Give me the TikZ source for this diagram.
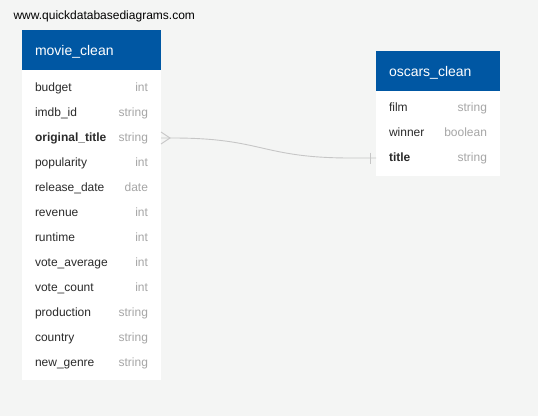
\documentclass[tikz,border=0pt]{standalone}
\usepackage{fontspec}
\setmainfont{Liberation Sans}
\usetikzlibrary{positioning}

\definecolor{qdbblue}{HTML}{0057A3}
\definecolor{qdbback}{HTML}{F4F5F4}
\definecolor{qdbtext}{HTML}{2B2B2B}
\definecolor{qdbtype}{HTML}{A6A6A6}
\definecolor{qdblink}{HTML}{C6C6C6}

\tikzset{
    tablehead/.style={anchor=north west, fill=qdbblue, text=white,
        font=\fontsize{14}{16}\selectfont, inner xsep=13pt, inner ysep=0pt,
        outer sep=0pt, text height=11pt, text depth=1pt,
        minimum height=40pt, text width=#1},
    tablerow/.style={anchor=north west, text=qdbtext,
        font=\fontsize{12}{14}\selectfont, inner xsep=13pt, inner ysep=0pt,
        outer sep=0pt, text height=9pt, text depth=3pt,
        minimum height=25pt, text width=#1},
    link/.style={draw=qdblink, line width=0.9pt}
}
\newcommand{\coltype}[1]{\hfill{\color{qdbtype}#1}}

\begin{document}
\begin{tikzpicture}[x=1pt, y=-1pt]
        \fill[qdbback] (0,0) rectangle (538,416);
        \useasboundingbox (0,0) rectangle (538,416);

        \node[anchor=west, font=\fontsize{12}{14}\selectfont] (site) at (10,16) {www.quickdatabasediagrams.com};

        % movie_clean
        \fill[white] (22,70) rectangle (161,380);
        \node[tablehead=113pt] (movieclean) at (22,30) {movie\_clean};
        \node[tablerow=113pt] (mcbudget) at (22,75.5) {budget\coltype{int}};
        \node[tablerow=113pt, below=0pt of mcbudget] (mcimdb) {imdb\_id\coltype{string}};
        \node[tablerow=113pt, below=0pt of mcimdb] (mcorig) {\textbf{original\_title}\coltype{string}};
        \node[tablerow=113pt, below=0pt of mcorig] (mcpop) {popularity\coltype{int}};
        \node[tablerow=113pt, below=0pt of mcpop] (mcrelease) {release\_date\coltype{date}};
        \node[tablerow=113pt, below=0pt of mcrelease] (mcrevenue) {revenue\coltype{int}};
        \node[tablerow=113pt, below=0pt of mcrevenue] (mcruntime) {runtime\coltype{int}};
        \node[tablerow=113pt, below=0pt of mcruntime] (mcvoteavg) {vote\_average\coltype{int}};
        \node[tablerow=113pt, below=0pt of mcvoteavg] (mcvotecnt) {vote\_count\coltype{int}};
        \node[tablerow=113pt, below=0pt of mcvotecnt] (mcprod) {production\coltype{string}};
        \node[tablerow=113pt, below=0pt of mcprod] (mccountry) {country\coltype{string}};
        \node[tablerow=113pt, below=0pt of mccountry] (mcgenre) {new\_genre\coltype{string}};

        % oscars_clean
        \fill[white] (376,91) rectangle (500,176);
        \node[tablehead=98pt] (oscarsclean) at (376,51) {oscars\_clean};
        \node[tablerow=98pt] (ocfilm) at (376,95.5) {film\coltype{string}};
        \node[tablerow=98pt, below=0pt of ocfilm] (ocwinner) {winner\coltype{boolean}};
        \node[tablerow=98pt, below=0pt of ocwinner] (octitle) {\textbf{title}\coltype{string}};

        % many-to-one link
        \coordinate (crow) at ([xshift=9pt]mcorig.east);
        \draw[link] (mcorig.east) -- ++(12pt,0)
            .. controls +(90pt,0) and +(-90pt,0) .. ([xshift=-25pt]octitle.west) -- (octitle.west);
        \draw[link] ([yshift=6pt]mcorig.east) -- (crow) -- ([yshift=-6pt]mcorig.east);
        \draw[link] ([xshift=-6pt,yshift=5.5pt]octitle.west) -- ([xshift=-6pt,yshift=-5.5pt]octitle.west);

    \end{tikzpicture}
\end{document}
